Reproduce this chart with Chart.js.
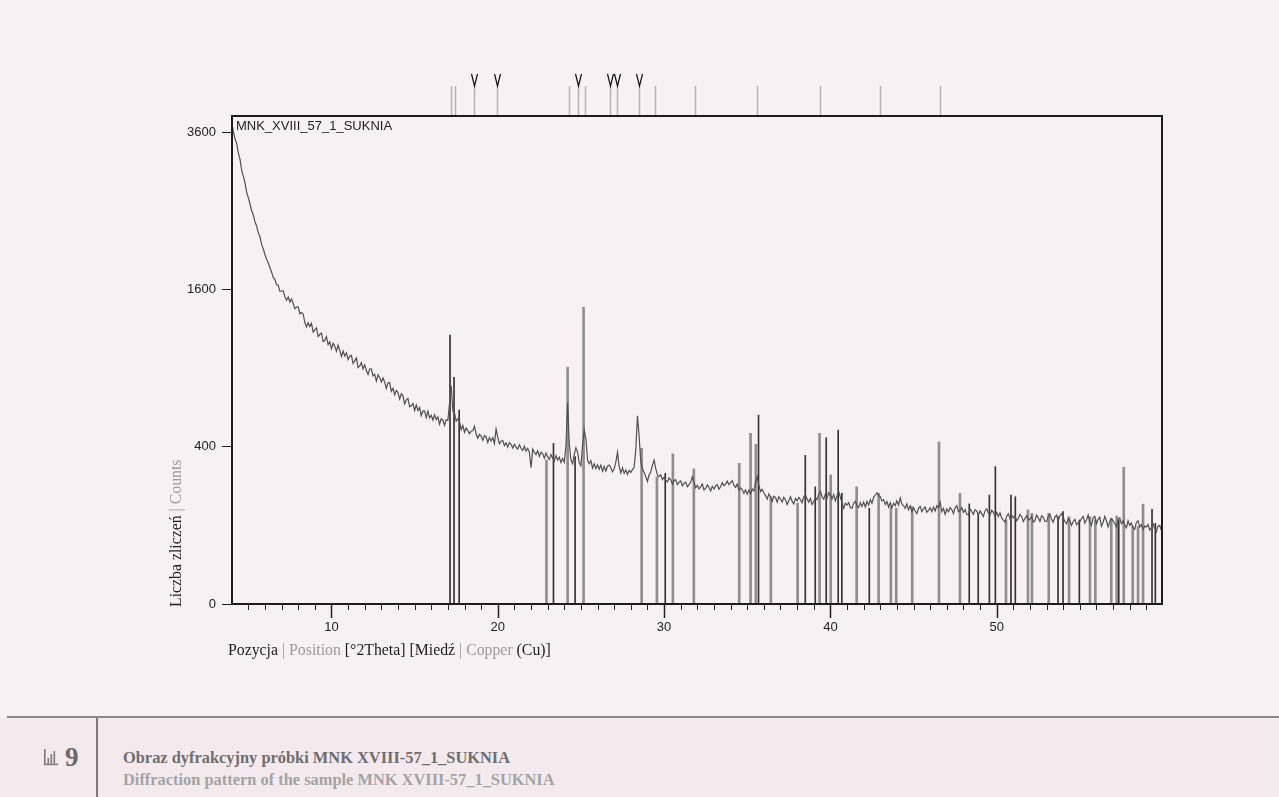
<!DOCTYPE html>
<html lang="pl">
<head>
<meta charset="utf-8">
<title>Obraz dyfrakcyjny MNK XVIII-57_1_SUKNIA</title>
<script src="https://cdn.jsdelivr.net/npm/chart.js@4.4.1/dist/chart.umd.min.js"></script>
<style>
  html, body { margin: 0; padding: 0; }
  body { width: 1279px; height: 797px; background: #f6f2f3; position: relative; overflow: hidden; }
  .chart-box { position: absolute; left: 0; top: 0; width: 1279px; height: 700px; }
  .cap-bg { position: absolute; left: 0; top: 718px; width: 1279px; height: 79px; background: #f4eaee; }
  .cap-rule { position: absolute; left: 7px; top: 716px; width: 1272px; height: 2px; background: #8a8a8a; }
  .cap-divider { position: absolute; left: 96px; top: 718px; width: 2px; height: 79px; background: #7a7a7a; }
  .cap-icon { position: absolute; left: 43px; top: 748px; }
  .cap-num { position: absolute; left: 65px; top: 742px; font: bold 27px "Liberation Serif", serif; color: #6a6a6a; line-height: 30px; }
  .cap-text { position: absolute; left: 123px; top: 747px; font: bold 16.4px "Liberation Serif", serif; line-height: 22px; }
  .cap-text .pl { color: #6e6e6e; }
  .cap-text .en { color: #a3a3a3; }
</style>
</head>
<body>
<div class="chart-box"><canvas id="xrd"></canvas></div>
<div class="cap-bg"></div>
<div class="cap-rule"></div>
<div class="cap-divider"></div>
<svg class="cap-icon" width="16" height="18" viewBox="0 0 16 18">
  <g fill="#7a7a7a">
    <rect x="1" y="1" width="1.6" height="16"/>
    <rect x="1" y="15.6" width="14" height="1.6"/>
    <rect x="4.5" y="10" width="1.6" height="5.6"/>
    <rect x="7.5" y="6" width="1.6" height="9.6"/>
    <rect x="10.5" y="3" width="1.6" height="12.6"/>
  </g>
</svg>
<div class="cap-num">9</div>
<div class="cap-text">
  <div class="pl">Obraz dyfrakcyjny próbki MNK XVIII-57_1_SUKNIA</div>
  <div class="en">Diffraction pattern of the sample MNK XVIII-57_1_SUKNIA</div>
</div>

<script>
// scan: 2theta from 4.0 deg in 0.1 deg steps, intensity in counts
const sampleName = 'MNK_XVIII_57_1_SUKNIA';
const scanStart = 4.0;
const scanStep = 0.1;
const counts = [
  3760, 3610, 3500, 3430, 3290, 3200, 3040, 2960, 2870, 2740,
  2670, 2590, 2500, 2450, 2360, 2310, 2230, 2180, 2090, 2040,
  1975, 1920, 1880, 1830, 1780, 1725, 1705, 1645, 1645, 1580,
  1584, 1585, 1526, 1492, 1523, 1474, 1504, 1460, 1411, 1426,
  1427, 1363, 1374, 1360, 1281, 1242, 1278, 1244, 1274, 1195,
  1215, 1233, 1156, 1174, 1187, 1114, 1122, 1155, 1088, 1111,
  1054, 1099, 1074, 1034, 1084, 1040, 990, 1035, 995, 1020,
  966, 992, 999, 935, 956, 978, 904, 916, 942, 893,
  925, 881, 852, 893, 894, 841, 852, 803, 849, 830,
  796, 826, 796, 751, 791, 792, 732, 752, 707, 737,
  723, 679, 715, 701, 647, 672, 683, 629, 635, 650,
  606, 640, 605, 624, 573, 603, 602, 562, 601, 560,
  575, 547, 578, 550, 566, 523, 554, 546, 517, 549,
  545, 650, 770, 600, 590, 540, 555, 540, 490, 515,
  477, 500, 486, 468, 484, 485, 510, 467, 444, 465,
  456, 433, 458, 451, 422, 448, 430, 447, 417, 495,
  450, 415, 428, 432, 406, 420, 398, 421, 412, 393,
  412, 398, 388, 410, 392, 381, 402, 378, 392, 372,
  300, 388, 372, 361, 380, 352, 372, 366, 344, 368,
  350, 338, 361, 343, 330, 356, 335, 348, 324, 342,
  325, 405, 655, 415, 335, 318, 362, 395, 372, 322,
  308, 410, 489, 440, 335, 318, 332, 298, 318, 296,
  313, 294, 312, 285, 306, 286, 307, 312, 300, 282,
  296, 325, 372, 305, 278, 300, 276, 290, 272, 289,
  280, 292, 302, 385, 573, 455, 328, 296, 280, 262,
  243, 270, 282, 312, 335, 296, 270, 262, 270, 250,
  260, 248, 241, 257, 249, 232, 246, 250, 230, 240,
  245, 226, 236, 240, 222, 230, 240, 262, 240, 218,
  228, 214, 222, 233, 210, 216, 229, 220, 207, 224,
  214, 226, 230, 213, 222, 238, 226, 232, 244, 230,
  238, 246, 228, 220, 232, 210, 218, 212, 198, 210,
  195, 210, 196, 214, 206, 238, 262, 228, 204, 212,
  200, 190, 178, 196, 186, 170, 188, 184, 168, 186,
  178, 168, 184, 176, 160, 172, 186, 170, 162, 180,
  172, 184, 176, 166, 186, 192, 178, 168, 180, 160,
  170, 182, 176, 196, 206, 186, 178, 196, 182, 200,
  190, 178, 194, 172, 190, 205, 184, 166, 148, 164,
  158, 166, 150, 148, 164, 170, 156, 150, 166, 154,
  168, 152, 170, 158, 176, 164, 184, 192, 200, 190,
  186, 172, 176, 160, 170, 152, 166, 150, 164, 156,
  172, 158, 182, 162, 156, 148, 162, 144, 156, 138,
  150, 140, 132, 148, 154, 138, 146, 152, 136, 142,
  150, 138, 152, 140, 156, 150, 168, 138, 148, 130,
  146, 138, 150, 144, 132, 150, 156, 138, 142, 150,
  136, 144, 130, 128, 146, 138, 130, 144, 140, 128,
  140, 132, 124, 140, 146, 134, 128, 142, 136, 124,
  136, 124, 134, 120, 114, 108, 124, 132, 118, 128,
  120, 126, 112, 118, 130, 124, 110, 118, 126, 114,
  116, 124, 108, 112, 128, 120, 110, 126, 122, 110,
  110, 124, 130, 116, 108, 122, 128, 112, 126, 132,
  120, 110, 104, 118, 112, 100, 110, 116, 102, 106,
  110, 118, 124, 106, 114, 128, 108, 100, 120, 124,
  104, 116, 122, 98, 108, 124, 112, 96, 110, 118,
  112, 104, 96, 116, 120, 104, 112, 100, 94, 112,
  100, 106, 94, 90, 108, 112, 96, 102, 90, 98,
  96, 102, 88, 94, 104, 92, 84, 98, 100, 88
];

// reference pattern sticks: position (2theta) and intensity
const darkPos = [17.13, 17.37, 17.68, 23.35, 24.65, 30.07, 35.68, 38.49, 39.09, 39.75, 40.47, 40.69, 42.34,
  48.35, 48.89, 49.56, 49.92, 50.86, 51.12, 53.69, 53.99, 54.97, 57.34, 59.34, 59.54];
const darkCounts = [1170, 830, 608, 417, 351, 276, 577, 357, 222, 447, 489, 198, 148,
  162, 133, 192, 305, 192, 186, 123, 138, 114, 114, 145, 105];
const grayPos = [22.93, 24.20, 25.16, 28.65, 29.57, 30.53, 31.79, 34.52, 35.20, 35.52, 36.42, 38.03, 39.35,
  40.02, 41.58, 42.90, 43.64, 43.96, 44.92, 46.53, 47.79, 50.56, 51.88, 52.12, 53.13, 54.35, 55.61,
  55.93, 56.89, 57.22, 57.64, 58.18, 58.50, 58.80];
const grayCounts = [335, 906, 1423, 392, 262, 364, 295, 320, 471, 412, 186, 164, 471,
  269, 222, 198, 153, 148, 153, 424, 198, 114, 143, 133, 133, 123, 123,
  114, 119, 125, 302, 97, 97, 161];

// identified peak markers above the plot; the ones in vPeaks get a "V"
const peakMarks = [17.18, 17.40, 18.60, 19.96, 24.26, 24.80, 25.25, 26.74, 27.18, 28.50, 29.46, 31.83,
  35.56, 39.39, 42.98, 46.61];
const vPeaks = [18.60, 19.96, 24.80, 26.74, 27.18, 28.50];

const xTicks = [10, 20, 30, 40, 50];
const yTicks = [0, 400, 1600, 3600];

// square-root intensity axis
class SqrtScale extends Chart.LinearScale {
  getPixelForValue(value) {
    const lo = Math.sqrt(this.min), hi = Math.sqrt(this.max);
    return this.getPixelForDecimal((Math.sqrt(Math.max(value, 0)) - lo) / (hi - lo));
  }
  getValueForPixel(pixel) {
    const lo = Math.sqrt(this.min), hi = Math.sqrt(this.max);
    const s = lo + this.getDecimalForPixel(pixel) * (hi - lo);
    return s * s;
  }
}
SqrtScale.id = 'sqrt';
SqrtScale.defaults = Chart.LinearScale.defaults;
Chart.register(SqrtScale);

const scanPoints = counts.map(function (c, i) {
  return { x: +(scanStart + i * scanStep).toFixed(2), y: c };
});
const darkSticks = darkPos.map((p, i) => ({ x: p, y: darkCounts[i] }));
const graySticks = grayPos.map((p, i) => ({ x: p, y: grayCounts[i] }));

function drawParts(ctx, parts, x, y) {
  parts.forEach(function (p) {
    ctx.fillStyle = p[1];
    ctx.fillText(p[0], x, y);
    x += ctx.measureText(p[0]).width;
  });
}

const decorations = {
  id: 'decorations',
  afterDraw(chart) {
    const ctx = chart.ctx;
    const area = chart.chartArea;
    const xs = chart.scales.x;
    ctx.save();

    // minor and major ticks on the 2theta axis
    ctx.strokeStyle = '#222';
    for (let v = Math.ceil(xs.min); v <= Math.floor(xs.max); v++) {
      const px = Math.round(xs.getPixelForValue(v)) + 0.5;
      const major = v % 10 === 0;
      ctx.lineWidth = major ? 1.5 : 1;
      ctx.beginPath();
      ctx.moveTo(px, area.bottom);
      ctx.lineTo(px, area.bottom + (major ? 14 : 6));
      ctx.stroke();
    }

    // peak markers
    ctx.strokeStyle = '#b4b4b4';
    ctx.lineWidth = 1.5;
    peakMarks.forEach(function (p) {
      const px = Math.round(xs.getPixelForValue(p)) + 0.5;
      ctx.beginPath();
      ctx.moveTo(px, area.top - 30);
      ctx.lineTo(px, area.top);
      ctx.stroke();
    });
    ctx.strokeStyle = '#111';
    ctx.lineWidth = 1.2;
    vPeaks.forEach(function (p) {
      const px = Math.round(xs.getPixelForValue(p)) + 0.5;
      ctx.beginPath();
      ctx.moveTo(px - 3, area.top - 42);
      ctx.lineTo(px, area.top - 30);
      ctx.lineTo(px + 3, area.top - 42);
      ctx.stroke();
    });

    // plot frame
    ctx.strokeStyle = '#1c1c1c';
    ctx.lineWidth = 2;
    ctx.strokeRect(area.left, area.top, area.right - area.left, area.bottom - area.top);

    // sample name
    ctx.font = '13px "Liberation Sans", Arial, sans-serif';
    ctx.fillStyle = '#1e1e1e';
    ctx.textBaseline = 'middle';
    ctx.textAlign = 'left';
    ctx.fillText(sampleName, area.left + 4, area.top + 10);

    // axis titles
    ctx.font = '15.8px "Liberation Serif", serif';
    drawParts(ctx, [
      ['Pozycja ', '#1e1e1e'], ['| Position ', '#9a9a9a'], ['[°2Theta] [Miedź ', '#1e1e1e'],
      ['| Copper ', '#9a9a9a'], ['(Cu)]', '#1e1e1e']
    ], 228, 651);
    ctx.translate(177, 607);
    ctx.rotate(-Math.PI / 2);
    drawParts(ctx, [['Liczba zliczeń ', '#1e1e1e'], ['| Counts', '#9a9a9a']], 0, 0);
    ctx.restore();
  }
};

const ctx = document.getElementById('xrd').getContext('2d');
new Chart(ctx, {
  type: 'line',
  data: {
    datasets: [{
      type: 'line',
      label: sampleName,
      data: scanPoints,
      borderColor: '#505050',
      borderWidth: 1.2,
      pointRadius: 0,
      tension: 0,
      order: 1
    }, {
      type: 'bar',
      label: 'dark sticks',
      data: darkSticks,
      backgroundColor: '#333333',
      barThickness: 1,
      grouped: false,
      order: 2
    }, {
      type: 'bar',
      label: 'gray sticks',
      data: graySticks,
      backgroundColor: '#8e8e8e',
      barThickness: 2,
      grouped: false,
      order: 3
    }]
  },
  options: {
    responsive: true,
    maintainAspectRatio: false,
    animation: false,
    events: [],
    layout: {
      padding: { left: 172, right: 117, top: 116, bottom: 56 }
    },
    plugins: {
      legend: { display: false },
      tooltip: { enabled: false }
    },
    scales: {
      x: {
        type: 'linear',
        min: 4.02,
        max: 59.94,
        offset: false,
        grid: { display: false, drawTicks: false },
        border: { display: false },
        afterBuildTicks: function (scale) {
          scale.ticks = xTicks.map(v => ({ value: v }));
        },
        afterFit: function (scale) {
          scale.height = 40;
        },
        ticks: {
          padding: 16,
          maxRotation: 0,
          autoSkip: false,
          color: '#1e1e1e',
          font: { family: '"Liberation Sans", Arial, sans-serif', size: 13 },
          callback: v => String(v)
        }
      },
      y: {
        type: 'sqrt',
        min: 0,
        max: 3850,
        grid: { display: true, drawOnChartArea: false, drawTicks: true, tickLength: 10, tickColor: '#222', tickWidth: 1 },
        border: { display: false },
        afterBuildTicks: function (scale) {
          scale.ticks = yTicks.map(v => ({ value: v }));
        },
        afterFit: function (scale) {
          scale.width = 60;
        },
        ticks: {
          padding: 6,
          color: '#1e1e1e',
          font: { family: '"Liberation Sans", Arial, sans-serif', size: 13 },
          callback: v => String(v)
        }
      }
    }
  },
  plugins: [decorations]
});
</script>
</body>
</html>
